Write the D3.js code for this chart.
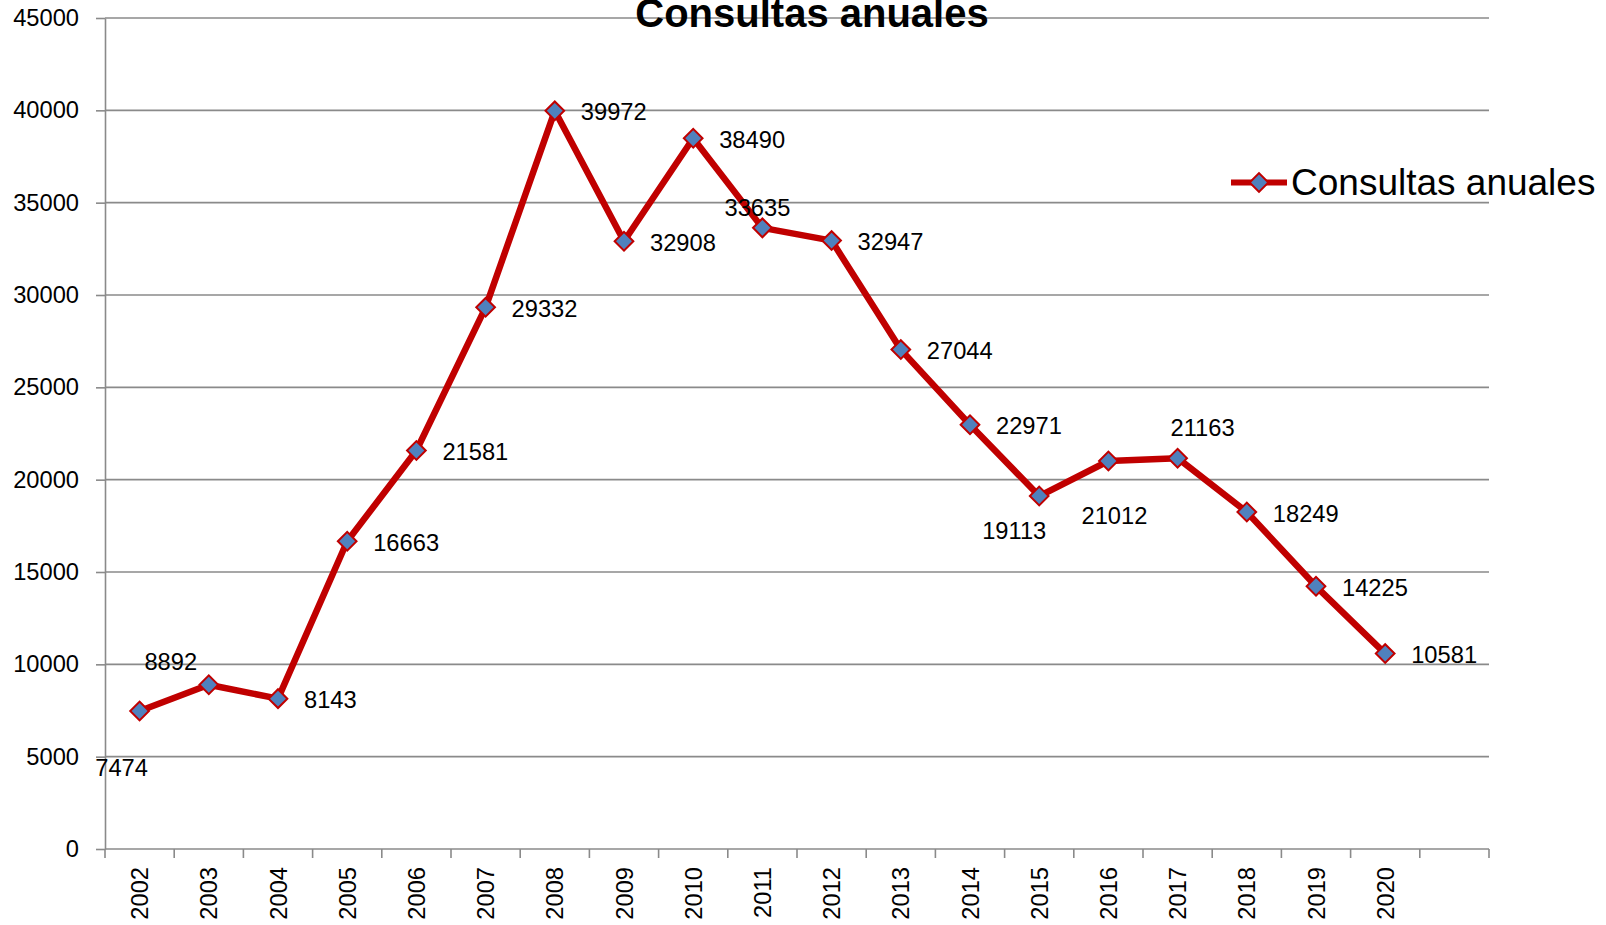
<!DOCTYPE html>
<html>
<head>
<meta charset="utf-8">
<script src="https://cdn.jsdelivr.net/npm/d3@7"></script>
<style>
  html, body { margin: 0; padding: 0; background: #ffffff; }
  svg { display: block; font-family: "Liberation Sans", Arial, sans-serif; }
</style>
</head>
<body>
<svg id="chart" width="1606" height="925"></svg>
<script>
// ---- data ----
const title = "Consultas anuales";
const seriesName = "Consultas anuales";
const categories = ["2002","2003","2004","2005","2006","2007","2008","2009","2010","2011",
                    "2012","2013","2014","2015","2016","2017","2018","2019","2020",""];
const years = ["2002","2003","2004","2005","2006","2007","2008","2009","2010","2011",
               "2012","2013","2014","2015","2016","2017","2018","2019","2020"];
const values = [7474, 8892, 8143, 16663, 21581, 29332, 39972, 32908, 38490, 33635,
                32947, 27044, 22971, 19113, 21012, 21163, 18249, 14225, 10581];
const yTicks = [0, 5000, 10000, 15000, 20000, 25000, 30000, 35000, 40000, 45000];

// ---- layout (label placement, not data) ----
// offsets of label centre relative to point; default: right of point
const labelOffsets = {
  "2002": [-18, 56], "2003": [-38, -23], "2011": [-5, -20],
  "2015": [-25, 34], "2016": [6, 54], "2017": [25, -31]
};

const svg = d3.select("#chart");
const x = d3.scaleBand().domain(categories).range([105, 1489]).padding(0);
const y = d3.scaleLinear().domain([0, 45000]).range([849, 18]);
const gridColor = "#8a8a8a";
const fontSize = 23.7;
const markerPath = d3.symbol().type(d3.symbolSquare).size(175)();

// gridlines
svg.append("g").selectAll("line").data(yTicks.filter(d => d > 0)).join("line")
  .attr("x1", 105).attr("x2", 1489)
  .attr("y1", d => y(d)).attr("y2", d => y(d))
  .attr("stroke", gridColor).attr("stroke-width", 1.6);

// y axis
const yAxis = svg.append("g").attr("transform", "translate(105,0)")
  .call(d3.axisLeft(y).tickValues(yTicks).tickSize(9).tickSizeOuter(0).tickPadding(17).tickFormat(d3.format("d")));
yAxis.select(".domain").attr("stroke", gridColor).attr("stroke-width", 1.6);
yAxis.selectAll(".tick line").attr("stroke", gridColor).attr("stroke-width", 1.6);
yAxis.selectAll("text").attr("font-size", fontSize).attr("fill", "#000")
  .attr("font-family", "'Liberation Sans', Arial, sans-serif");

// x axis
const xAxis = svg.append("g").attr("transform", "translate(0,849)")
  .call(d3.axisBottom(x).tickSize(0).tickSizeOuter(0));
xAxis.select(".domain").remove();
xAxis.selectAll("text")
  .attr("font-size", fontSize).attr("fill", "#000")
  .attr("font-family", "'Liberation Sans', Arial, sans-serif")
  .attr("transform", "rotate(-90)")
  .attr("text-anchor", "end")
  .attr("x", -18).attr("y", 0).attr("dy", "0.36em");
const bounds = categories.map(c => x(c)).concat([x.range()[1]]);
xAxis.append("line").attr("x1", x.range()[0]).attr("x2", x.range()[1])
  .attr("y1", 0).attr("y2", 0).attr("stroke", gridColor).attr("stroke-width", 1.6);
xAxis.append("g").selectAll("line").data(bounds).join("line")
  .attr("x1", d => d).attr("x2", d => d).attr("y1", 0).attr("y2", 9)
  .attr("stroke", gridColor).attr("stroke-width", 1.6);

// series
const pts = years.map((yr, i) => ({ yr, v: values[i], px: x(yr) + x.bandwidth() / 2, py: y(values[i]) }));
svg.append("path").datum(pts)
  .attr("d", d3.line().x(d => d.px).y(d => d.py))
  .attr("fill", "none").attr("stroke", "#C00000").attr("stroke-width", 6.5)
  .attr("stroke-linejoin", "round");

svg.append("g").selectAll("path").data(pts).join("path")
  .attr("transform", d => `translate(${d.px},${d.py}) rotate(45)`)
  .attr("d", markerPath)
  .attr("fill", "#4F81BD").attr("stroke", "#C00000").attr("stroke-width", 2);

// data labels
svg.append("g").selectAll("text").data(pts).join("text")
  .attr("font-size", fontSize).attr("fill", "#000")
  .each(function(d) {
    const t = d3.select(this);
    const off = labelOffsets[d.yr];
    if (off) {
      t.attr("x", d.px + off[0]).attr("y", d.py + off[1]).attr("text-anchor", "middle");
    } else {
      t.attr("x", d.px + 26).attr("y", d.py + 1).attr("text-anchor", "start");
    }
  })
  .attr("dy", "0.36em")
  .text(d => d.v);

// title
svg.append("text").attr("x", 812).attr("y", 27).attr("text-anchor", "middle")
  .attr("font-size", 40).attr("font-weight", "bold").attr("fill", "#000").text(title);

// legend
const lg = svg.append("g").attr("transform", "translate(1231,182.5)");
lg.append("line").attr("x1", 0).attr("x2", 56).attr("y1", 0).attr("y2", 0)
  .attr("stroke", "#C00000").attr("stroke-width", 6);
lg.append("path").attr("transform", "translate(28,0) rotate(45)")
  .attr("d", markerPath)
  .attr("fill", "#4F81BD").attr("stroke", "#C00000").attr("stroke-width", 2);
lg.append("text").attr("x", 60).attr("y", 12.5).attr("font-size", 37).attr("fill", "#000").text(seriesName);
</script>
</body>
</html>
